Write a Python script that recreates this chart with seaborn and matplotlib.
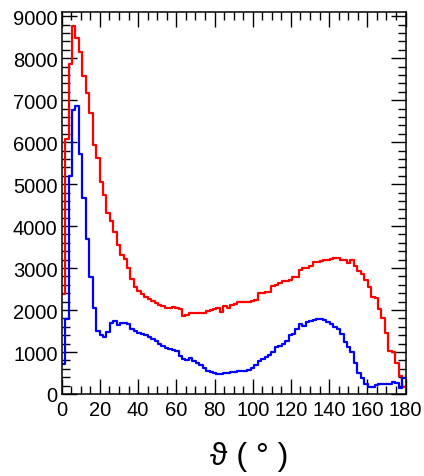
import numpy as np
import pandas as pd
import matplotlib
matplotlib.use("Agg")
import matplotlib.pyplot as plt
import seaborn as sns
from matplotlib.ticker import MultipleLocator

# ---- data (counts per 1.8 degree bin, 0..180 deg) ----
theta_min, theta_max, n_bins = 0.0, 180.0, 100

red_counts = [
    2380, 6080, 7850, 8760, 8480, 8140, 7580, 7180, 6700, 5920,
    5620, 5040, 4740, 4310, 4120, 3850, 3560, 3320, 3220, 3000,
    2740, 2550, 2450, 2380, 2320, 2270, 2210, 2160, 2120, 2090,
    2060, 2040, 2080, 2040, 2030, 1870, 1890, 1920, 1940, 1930,
    1920, 1940, 1970, 2000, 2020, 2060, 1950, 2100, 2050, 2130,
    2150, 2200, 2180, 2180, 2200, 2220, 2250, 2410, 2410, 2420,
    2420, 2580, 2600, 2640, 2690, 2690, 2720, 2780, 2780, 2950,
    3000, 2990, 3050, 3140, 3140, 3160, 3200, 3200, 3210, 3240,
    3250, 3190, 3190, 3120, 3190, 3050, 2920, 2850, 2720, 2560,
    2320, 2290, 2030, 1810, 1450, 1030, 1000, 740, 440, 160,
]

blue_counts = [
    720, 1780, 5200, 6760, 6860, 5720, 4680, 3700, 2780, 2040,
    1500, 1400, 1360, 1480, 1690, 1730, 1640, 1700, 1680, 1660,
    1540, 1500, 1460, 1430, 1400, 1350, 1320, 1270, 1200, 1150,
    1100, 1070, 1050, 1020, 900, 840, 815, 850, 790, 735,
    680, 615, 555, 520, 500, 480, 480, 495, 510, 520,
    530, 545, 550, 555, 580, 620, 695, 785, 840, 870,
    940, 1010, 1120, 1150, 1200, 1270, 1400, 1430, 1550, 1660,
    1620, 1720, 1730, 1770, 1790, 1790, 1770, 1720, 1670, 1600,
    1540, 1430, 1230, 1120, 1000, 750, 490, 370, 250, 170,
    170, 215, 230, 250, 240, 240, 280, 270, 150, 390,
]

x_ticks = [0, 20, 40, 60, 80, 100, 120, 140, 160, 180]
y_ticks = [0, 1000, 2000, 3000, 4000, 5000, 6000, 7000, 8000, 9000]
x_title = "\u03d1 ( \u00b0 )"

bin_width = (theta_max - theta_min) / n_bins
edges = np.linspace(theta_min, theta_max, n_bins + 1)
centers = 0.5 * (edges[:-1] + edges[1:])
df = pd.DataFrame({"theta": centers, "red": red_counts, "blue": blue_counts})

sns.set_style("ticks")
plt.rcParams["font.family"] = ["Liberation Sans", "DejaVu Sans"]

fig = plt.figure(figsize=(4.24, 4.77), dpi=100)
ax = fig.add_axes([61.7 / 424, 1 - 395 / 477, (405.5 - 61.7) / 424, (395 - 13) / 477])

for col, colour in (("red", "#ff0000"), ("blue", "#0000ff")):
    sns.histplot(data=df, x="theta", weights=col, binwidth=bin_width,
                 binrange=(theta_min, theta_max), element="step",
                 fill=False, color=colour, linewidth=1.6, ax=ax)

ax.set_xlim(theta_min, theta_max)
ax.set_ylim(0, 9100)
ax.set_xticks(x_ticks)
ax.set_xticklabels([str(t) for t in x_ticks])
ax.set_yticks(y_ticks)
ax.set_yticklabels([str(t) for t in y_ticks])
ax.xaxis.set_minor_locator(MultipleLocator(5))
ax.yaxis.set_minor_locator(MultipleLocator(200))
ax.tick_params(which="both", direction="in", top=True, right=True,
               color="black", width=1.0, labelcolor="black")
ax.tick_params(which="major", length=11, labelsize=14.5)
ax.tick_params(which="minor", length=5.5)
ax.tick_params(axis="x", which="major", pad=4)
ax.tick_params(axis="y", which="major", pad=3)
for sp in ax.spines.values():
    sp.set_linewidth(1.1)
    sp.set_color("black")

ax.set_ylabel("")
ax.set_xlabel(x_title, fontsize=23, color="black")
ax.xaxis.set_label_coords((249 - 61.7) / 343.8, (395 - 457) / 382)
ax.xaxis.label.set_verticalalignment("center")

fig.savefig("out.png", dpi=100)
